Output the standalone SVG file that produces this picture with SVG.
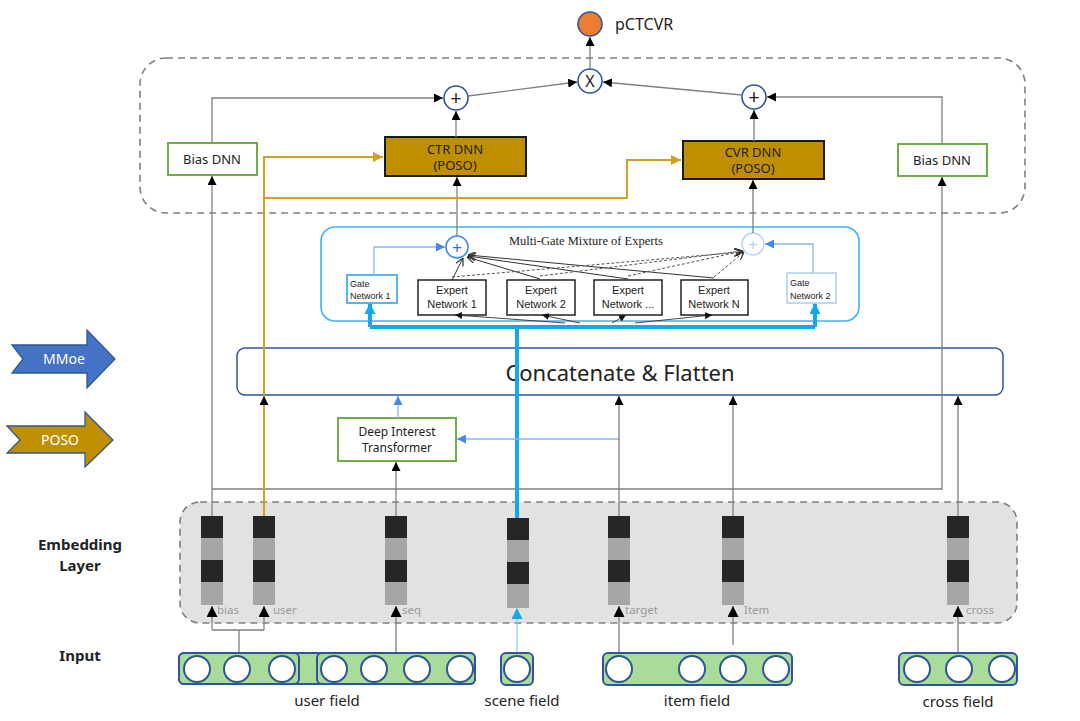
<svg xmlns="http://www.w3.org/2000/svg" width="1080" height="721" viewBox="0 0 1080 721">
<defs>
<style>
.t{font-family:"Noto Sans","Liberation Sans",sans-serif;fill:#222}
.h{font-family:"Liberation Sans",Arial,sans-serif;fill:#222}
.ln{fill:none;stroke:#808080;stroke-width:1.3}
.or{fill:none;stroke:#D4A020;stroke-width:2}
.lb{fill:none;stroke:#8DB4E8;stroke-width:1.3}
.cy{fill:none;stroke:#12A8EE;stroke-width:4}
.bias{fill:#fff;stroke:#70AD47;stroke-width:2}
.poso{fill:#BF8F00;stroke:#1a1a1a;stroke-width:2}
.op{fill:#fff;stroke:#2F5597;stroke-width:1.6}
.ex{fill:#fff;stroke:#222;stroke-width:1.5}
.gate{fill:#fff;stroke:#1E9FE8;stroke-width:1.5}
.dk{fill:#262626}
.lt{fill:#A6A6A6}
.fld{fill:#A9DC9A;stroke:#2F5597;stroke-width:2}
.cir{fill:#fff;stroke:#2F5597;stroke-width:2}
.el{font-family:"Noto Sans","Liberation Sans",sans-serif;font-size:11.5px;fill:#9a9a9a}
</style>
<marker id="ab" viewBox="0 0 10 10" refX="10" refY="5" markerWidth="9" markerHeight="9" markerUnits="userSpaceOnUse" orient="auto"><path d="M0,0 L10,5 L0,10 z" fill="#000"/></marker>
<marker id="ae" viewBox="0 0 10 10" refX="10" refY="5" markerWidth="11" markerHeight="11" markerUnits="userSpaceOnUse" orient="auto"><path d="M0,0 L10,5 L0,10 z" fill="#000"/></marker>
<marker id="ao" viewBox="0 0 10 10" refX="10" refY="5" markerWidth="10" markerHeight="10" markerUnits="userSpaceOnUse" orient="auto"><path d="M0,0 L10,5 L0,10 z" fill="#D4A020"/></marker>
<marker id="al" viewBox="0 0 10 10" refX="10" refY="5" markerWidth="9" markerHeight="9" markerUnits="userSpaceOnUse" orient="auto"><path d="M0,0 L10,5 L0,10 z" fill="#4A86E8"/></marker>
<marker id="ac" viewBox="0 0 10 10" refX="9" refY="5" markerWidth="11" markerHeight="11" markerUnits="userSpaceOnUse" orient="auto"><path d="M0,0 L10,5 L0,10 z" fill="#12A8EE"/></marker>
<marker id="av" viewBox="0 0 10 10" refX="10" refY="5" markerWidth="8" markerHeight="8" markerUnits="userSpaceOnUse" orient="auto"><path d="M0,0 L10,5 L0,10" fill="none" stroke="#333" stroke-width="1.5"/></marker>
<marker id="as" viewBox="0 0 10 10" refX="10" refY="5" markerWidth="7" markerHeight="7" markerUnits="userSpaceOnUse" orient="auto"><path d="M0,0 L10,5 L0,10 z" fill="#111"/></marker>
</defs>
<rect width="1080" height="721" fill="#fff"/>

<rect id="towers" x="140" y="58" width="885" height="155" rx="26" fill="none" stroke="#808080" stroke-width="1.6" stroke-dasharray="7,5"/>

<g id="mmoe-legend">
<path d="M12,345 H87 V330 L115,359 L87,388 V373 H12 L23,359 Z" fill="#4472C4" stroke="#2F5597" stroke-width="1.3"/>
<text x="64" y="364" font-size="14" fill="#fff" text-anchor="middle" font-family="Noto Sans,Liberation Sans,sans-serif">MMoe</text>
</g>
<g id="poso-legend">
<path d="M7,426 H85 V412 L113,440 L85,467 V453 H7 L20,440 Z" fill="#BF8F00" stroke="#2F5597" stroke-width="1.3"/>
<text x="60" y="445" font-size="14" fill="#fff" text-anchor="middle" font-family="Noto Sans,Liberation Sans,sans-serif">POSO</text>
</g>
<g id="layer-labels" class="t" font-weight="bold" font-size="15" text-anchor="middle">
<text x="80" y="550">Embedding</text>
<text x="80" y="571">Layer</text>
<text x="80" y="661">Input</text>
</g>

<g id="pctcvr"><circle cx="590" cy="24" r="12" fill="#ED7D31" stroke="#2F5597" stroke-width="1.6"/><text class="t" x="615" y="30" font-size="16">pCTCVR</text></g>
<g id="mul"><circle class="op" cx="590" cy="81" r="12"/><text class="t" x="590" y="87" font-size="16" text-anchor="middle">X</text></g>
<g id="plus-ctr"><circle class="op" cx="456" cy="98" r="12"/><text class="t" x="456" y="105" font-size="20" text-anchor="middle">+</text></g>
<g id="plus-cvr"><circle class="op" cx="754" cy="97" r="12"/><text class="t" x="754" y="104" font-size="20" text-anchor="middle">+</text></g>
<g id="bias-dnn-left"><rect class="bias" x="168" y="143" width="89" height="32"/><text class="t" x="212" y="164" font-size="13" text-anchor="middle">Bias DNN</text></g>
<g id="bias-dnn-right"><rect class="bias" x="898" y="144" width="89" height="32"/><text class="t" x="942" y="165" font-size="13" text-anchor="middle">Bias DNN</text></g>
<g id="ctr-dnn"><rect class="poso" x="385" y="137" width="141" height="39"/><text class="t" x="455" y="154" font-size="13" text-anchor="middle">CTR DNN</text><text class="t" x="455" y="170" font-size="13" text-anchor="middle">(POSO)</text></g>
<g id="cvr-dnn"><rect class="poso" x="683" y="141" width="141" height="38"/><text class="t" x="753" y="157" font-size="13" text-anchor="middle">CVR DNN</text><text class="t" x="753" y="173" font-size="13" text-anchor="middle">(POSO)</text></g>

<g id="mmoe">
<rect x="321" y="227" width="538" height="94" rx="14" fill="#fff" stroke="#3DB4F2" stroke-width="1.6"/>
<text x="509" y="245" font-size="12.5" font-family="Liberation Serif,Times New Roman,serif" fill="#222">Multi-Gate Mixture of Experts</text>
</g>
<g id="mmoe-plus-1"><circle cx="457" cy="247" r="11" fill="#fff" stroke="#3D8EF0" stroke-width="1.6"/><text x="457" y="253" font-size="17" text-anchor="middle" fill="#2F6FE0" font-family="Liberation Sans,sans-serif">+</text></g>
<g id="mmoe-plus-2"><circle cx="753" cy="244" r="11" fill="#fff" stroke="#B5D3F5" stroke-width="1.4"/><text x="753" y="250" font-size="17" text-anchor="middle" fill="#B5D3F5" font-family="Liberation Sans,sans-serif">+</text></g>
<g id="gate-1"><rect class="gate" x="347" y="275" width="50" height="28"/><text class="h" x="350" y="287" font-size="9">Gate</text><text class="h" x="350" y="299" font-size="9">Network 1</text></g>
<g id="gate-2"><rect x="787" y="273" width="49" height="30" fill="#fff" stroke="#9CC8F0" stroke-width="1.3"/><text class="h" x="790" y="286" font-size="9">Gate</text><text class="h" x="790" y="299" font-size="9">Network 2</text></g>
<g id="expert-1"><rect class="ex" x="418" y="280" width="68" height="35"/><text class="h" x="452" y="294" font-size="11" text-anchor="middle">Expert</text><text class="h" x="452" y="308" font-size="11" text-anchor="middle">Network 1</text></g>
<g id="expert-2"><rect class="ex" x="507" y="280" width="68" height="35"/><text class="h" x="541" y="294" font-size="11" text-anchor="middle">Expert</text><text class="h" x="541" y="308" font-size="11" text-anchor="middle">Network 2</text></g>
<g id="expert-3"><rect class="ex" x="594" y="280" width="68" height="35"/><text class="h" x="628" y="294" font-size="11" text-anchor="middle">Expert</text><text class="h" x="628" y="308" font-size="11" text-anchor="middle">Network ...</text></g>
<g id="expert-n"><rect class="ex" x="681" y="280" width="67" height="35"/><text class="h" x="714" y="294" font-size="11" text-anchor="middle">Expert</text><text class="h" x="714" y="308" font-size="11" text-anchor="middle">Network N</text></g>

<g id="concat"><rect x="237" y="348" width="766" height="47" rx="8" fill="#fff" stroke="#2F5597" stroke-width="1.5"/><text class="t" x="620" y="381" font-size="22" text-anchor="middle">Concatenate &amp; Flatten</text></g>

<g id="dit"><rect class="bias" x="338" y="418" width="118" height="43"/><text class="t" x="397" y="436" font-size="12" text-anchor="middle">Deep Interest</text><text class="t" x="397" y="452" font-size="12" text-anchor="middle">Transformer</text></g>

<g id="embedding-layer">
<rect x="180" y="502" width="837" height="121" rx="20" fill="#E2E2E2" stroke="#808080" stroke-width="1.6" stroke-dasharray="7,5"/>
</g>

<g id="connectors">
<path class="ln" d="M212,516 V176" marker-end="url(#ab)"/>
<path class="ln" d="M212,143 V98 H443" marker-end="url(#ab)"/>
<path class="ln" d="M212,489 H942 V177" marker-end="url(#ab)"/>
<path class="ln" d="M942,144 V97 H767" marker-end="url(#ab)"/>
<path class="ln" d="M456,137 V111" marker-end="url(#ab)"/>
<path class="ln" d="M754,141 V110" marker-end="url(#ab)"/>
<path class="ln" d="M468,96 L577,82" marker-end="url(#ab)"/>
<path class="ln" d="M742,95 L603,82" marker-end="url(#ab)"/>
<path class="ln" d="M590,69 V37" marker-end="url(#ab)"/>
<path class="ln" d="M457,236 V177" marker-end="url(#ab)"/>
<path class="ln" d="M753,233 V180" marker-end="url(#ab)"/>

<path class="or" d="M264,516 V157 H383" marker-end="url(#ao)"/>
<path class="or" d="M264,198 H627 V160 H681" marker-end="url(#ao)"/>

<path class="lb" d="M374,275 V247 H445" marker-end="url(#al)"/>
<path class="lb" d="M813,273 V244 H765" marker-end="url(#al)"/>

<path fill="none" stroke="#333" stroke-width="1" d="M452,280 L463,258" marker-end="url(#av)"/>
<path fill="none" stroke="#333" stroke-width="1" d="M540,279 L467,257" marker-end="url(#av)"/>
<path fill="none" stroke="#333" stroke-width="1" d="M628,279 L468,256" marker-end="url(#av)"/>
<path fill="none" stroke="#333" stroke-width="1" d="M714,278 L468,255" marker-end="url(#av)"/>
<path fill="none" stroke="#555" stroke-width="1" stroke-dasharray="3,2" d="M452,277 L742,252" marker-end="url(#av)"/>
<path fill="none" stroke="#555" stroke-width="1" stroke-dasharray="3,2" d="M540,276 L742,251" marker-end="url(#av)"/>
<path fill="none" stroke="#555" stroke-width="1" stroke-dasharray="3,2" d="M628,276 L743,251" marker-end="url(#av)"/>
<path fill="none" stroke="#555" stroke-width="1" stroke-dasharray="3,2" d="M714,277 L744,252" marker-end="url(#av)"/>

<path fill="none" stroke="#333" stroke-width="0.9" d="M565,323 L455,315" marker-end="url(#as)"/>
<path fill="none" stroke="#333" stroke-width="0.9" d="M580,323 L542,315" marker-end="url(#as)"/>
<path fill="none" stroke="#333" stroke-width="0.9" d="M612,323 L626,315" marker-end="url(#as)"/>
<path fill="none" stroke="#333" stroke-width="0.9" d="M635,323 L712,315" marker-end="url(#as)"/>

<path class="cy" d="M517,518 V327"/>
<path class="cy" d="M370,327 H815"/>
<path class="cy" d="M370,327 V304" marker-end="url(#ac)"/>
<path class="cy" d="M815,327 V304" marker-end="url(#ac)"/>

<path class="lb" d="M398,418 V396" marker-end="url(#al)"/>
<path class="lb" d="M619,439 H457" marker-end="url(#al)"/>
<path class="ln" d="M396,516 V462" marker-end="url(#ab)"/>
<path class="ln" d="M619,516 V396" marker-end="url(#ab)"/>
<path class="ln" d="M733,516 V396" marker-end="url(#ab)"/>
<path class="ln" d="M958,516 V396" marker-end="url(#ab)"/>
<path fill="none" stroke="none" d="M264,406 V396" marker-end="url(#ab)"/>

<path class="ln" d="M239,653 V630 M212,630 H264"/>
<path class="ln" d="M212,630 V606" marker-end="url(#ae)"/>
<path class="ln" d="M264,630 V606" marker-end="url(#ae)"/>
<path class="ln" d="M396,653 V606" marker-end="url(#ae)"/>
<path fill="none" stroke="#7CCBF2" stroke-width="1.2" d="M517,656 V609" marker-end="url(#ac)"/>
<path class="ln" d="M619,656 V606" marker-end="url(#ae)"/>
<path class="ln" d="M733,645 V606" marker-end="url(#ae)"/>
<path class="ln" d="M958,656 V606" marker-end="url(#ae)"/>
</g>

<g id="emb-bias"><rect class="dk" x="201" y="516" width="22" height="22"/><rect class="lt" x="201" y="538" width="22" height="22"/><rect class="dk" x="201" y="560" width="22" height="22"/><rect class="lt" x="201" y="582" width="22" height="23"/><text class="el" x="217" y="614">bias</text></g>
<g id="emb-user"><rect class="dk" x="253" y="516" width="22" height="22"/><rect class="lt" x="253" y="538" width="22" height="22"/><rect class="dk" x="253" y="560" width="22" height="22"/><rect class="lt" x="253" y="582" width="22" height="23"/><text class="el" x="273" y="614">user</text></g>
<g id="emb-seq"><rect class="dk" x="385" y="516" width="22" height="22"/><rect class="lt" x="385" y="538" width="22" height="22"/><rect class="dk" x="385" y="560" width="22" height="22"/><rect class="lt" x="385" y="582" width="22" height="23"/><text class="el" x="402" y="614">seq</text></g>
<g id="emb-scene"><rect class="dk" x="507" y="518" width="22" height="22"/><rect class="lt" x="507" y="540" width="22" height="22"/><rect class="dk" x="507" y="562" width="22" height="22"/><rect class="lt" x="507" y="584" width="22" height="24"/></g>
<g id="emb-target"><rect class="dk" x="608" y="516" width="22" height="22"/><rect class="lt" x="608" y="538" width="22" height="22"/><rect class="dk" x="608" y="560" width="22" height="22"/><rect class="lt" x="608" y="582" width="22" height="23"/><text class="el" x="625" y="614">target</text></g>
<g id="emb-item"><rect class="dk" x="722" y="516" width="22" height="22"/><rect class="lt" x="722" y="538" width="22" height="22"/><rect class="dk" x="722" y="560" width="22" height="22"/><rect class="lt" x="722" y="582" width="22" height="23"/><text class="el" x="744" y="614">Item</text></g>
<g id="emb-cross"><rect class="dk" x="947" y="516" width="22" height="22"/><rect class="lt" x="947" y="538" width="22" height="22"/><rect class="dk" x="947" y="560" width="22" height="22"/><rect class="lt" x="947" y="582" width="22" height="23"/><text class="el" x="966" y="614">cross</text></g>

<g id="user-field">
<rect class="fld" x="179" y="653" width="296" height="31" rx="5"/>
<rect class="fld" x="179" y="653" width="120" height="31" rx="5"/>
<rect class="fld" x="317" y="653" width="158" height="31" rx="5"/>
<circle class="cir" cx="197" cy="669" r="13"/><circle class="cir" cx="237" cy="669" r="13"/><circle class="cir" cx="282" cy="669" r="13"/>
<circle class="cir" cx="334" cy="669" r="13"/><circle class="cir" cx="374" cy="669" r="13"/><circle class="cir" cx="417" cy="669" r="13"/><circle class="cir" cx="460" cy="669" r="13"/>
<text class="t" x="327" y="706" font-size="15" text-anchor="middle">user field</text>
</g>
<g id="scene-field">
<rect class="fld" x="501" y="653" width="32" height="32" rx="5"/>
<circle class="cir" cx="517" cy="669" r="13"/>
<text class="t" x="522" y="706" font-size="15" text-anchor="middle">scene field</text>
</g>
<g id="item-field">
<rect class="fld" x="603" y="653" width="189" height="32" rx="5"/>
<circle class="cir" cx="619" cy="669" r="13"/><circle class="cir" cx="692" cy="669" r="13"/><circle class="cir" cx="733" cy="669" r="13"/><circle class="cir" cx="776" cy="669" r="13"/>
<text class="t" x="697" y="706" font-size="15" text-anchor="middle">item field</text>
</g>
<g id="cross-field">
<rect class="fld" x="899" y="653" width="118" height="32" rx="5"/>
<circle class="cir" cx="917" cy="669" r="13"/><circle class="cir" cx="959" cy="669" r="13"/><circle class="cir" cx="1002" cy="669" r="13"/>
<text class="t" x="958" y="707" font-size="15" text-anchor="middle">cross field</text>
</g>
</svg>
